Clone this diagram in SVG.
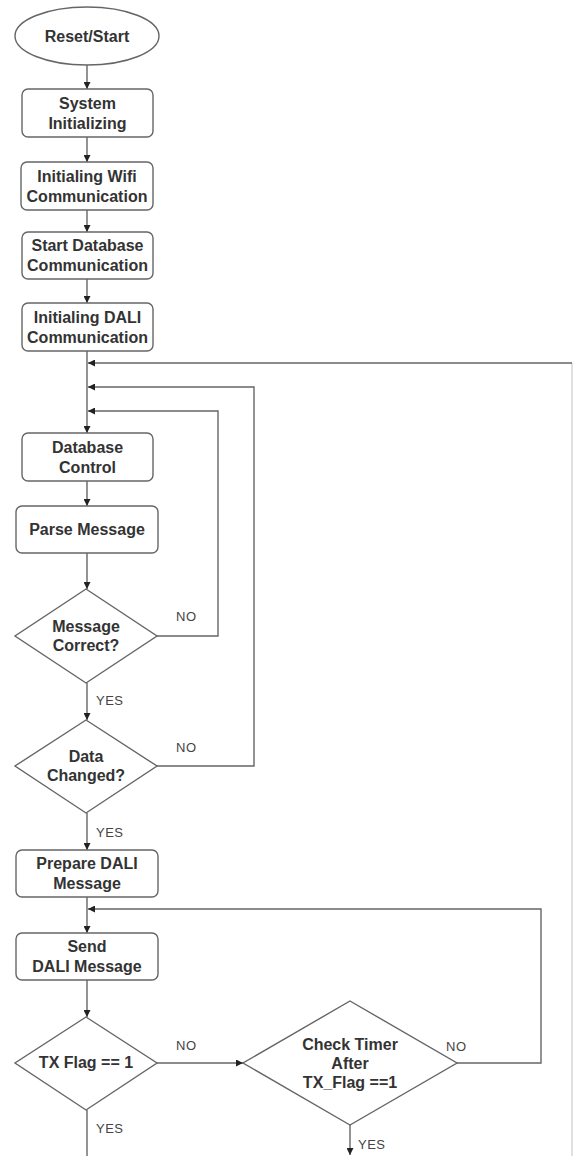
<svg xmlns="http://www.w3.org/2000/svg" width="574" height="1156" viewBox="0 0 574 1156">
<style>
.shape{fill:#fff;stroke:#666;stroke-width:1.4}
.t{font-family:"Liberation Sans",Arial,sans-serif;font-size:16px;font-weight:bold;fill:#333;text-anchor:middle}
.lbl{font-family:"Liberation Sans",Arial,sans-serif;font-size:13px;fill:#444;letter-spacing:0.5px}
.c{fill:none;stroke:#666;stroke-width:1.4}
.faint{fill:none;stroke:#ccc;stroke-width:1.2}
</style>
<defs>
<marker id="ah" viewBox="0 0 10 10" refX="10" refY="5" markerWidth="7" markerHeight="7" orient="auto" markerUnits="userSpaceOnUse">
<path d="M0,0 L10,5 L0,10 z" fill="#222"/>
</marker>
</defs>
<rect width="574" height="1156" fill="#fff"/>
<g id="connectors">
<line class="c" x1="87" y1="65" x2="87" y2="89" marker-end="url(#ah)"/>
<line class="c" x1="87" y1="137" x2="87" y2="162" marker-end="url(#ah)"/>
<line class="c" x1="87" y1="210" x2="87" y2="232" marker-end="url(#ah)"/>
<line class="c" x1="87" y1="279" x2="87" y2="303" marker-end="url(#ah)"/>
<line class="c" x1="87" y1="351" x2="87" y2="433" marker-end="url(#ah)"/>
<line class="faint" x1="572" y1="1156" x2="572" y2="363"/>
<polyline class="c" points="572,363 88,363" marker-end="url(#ah)"/>
<polyline class="c" points="157,766 254,766 254,387 88,387" marker-end="url(#ah)"/>
<polyline class="c" points="157,636 218,636 218,411 88,411" marker-end="url(#ah)"/>
<line class="c" x1="87" y1="481" x2="87" y2="506" marker-end="url(#ah)"/>
<line class="c" x1="87" y1="553" x2="87" y2="589" marker-end="url(#ah)"/>
<line class="c" x1="87" y1="683" x2="87" y2="720" marker-end="url(#ah)"/>
<line class="c" x1="87" y1="813" x2="87" y2="850" marker-end="url(#ah)"/>
<line class="c" x1="87" y1="897" x2="87" y2="933" marker-end="url(#ah)"/>
<polyline class="c" points="457,1063 541,1063 541,909 88,909" marker-end="url(#ah)"/>
<line class="c" x1="87" y1="980" x2="87" y2="1017" marker-end="url(#ah)"/>
<line class="c" x1="157" y1="1063" x2="243" y2="1063" marker-end="url(#ah)"/>
<line class="c" x1="87" y1="1110" x2="87" y2="1156"/>
<line class="c" x1="350" y1="1125" x2="350" y2="1155" marker-end="url(#ah)"/>
<text class="lbl" x="176" y="621">NO</text>
<text class="lbl" x="96" y="705">YES</text>
<text class="lbl" x="176" y="752">NO</text>
<text class="lbl" x="96" y="837">YES</text>
<text class="lbl" x="176" y="1050">NO</text>
<text class="lbl" x="96" y="1133">YES</text>
<text class="lbl" x="446" y="1051">NO</text>
<text class="lbl" x="358" y="1149">YES</text>
</g>
<g id="reset-start">
<ellipse class="shape" cx="87" cy="36" rx="72" ry="29"/>
<text class="t" x="87" y="42">Reset/Start</text>
</g>
<g id="system-init">
<rect class="shape" x="22" y="89" width="131" height="48" rx="6"/>
<text class="t" x="87.5" y="109">System</text>
<text class="t" x="87.5" y="129">Initializing</text>
</g>
<g id="wifi-init">
<rect class="shape" x="21" y="162" width="132" height="48" rx="6"/>
<text class="t" x="87" y="182">Initialing Wifi</text>
<text class="t" x="87" y="202">Communication</text>
</g>
<g id="db-comm">
<rect class="shape" x="22" y="232" width="131" height="47" rx="6"/>
<text class="t" x="87.5" y="251">Start Database</text>
<text class="t" x="87.5" y="271">Communication</text>
</g>
<g id="dali-init">
<rect class="shape" x="22" y="303" width="131" height="48" rx="6"/>
<text class="t" x="87.5" y="323">Initialing DALI</text>
<text class="t" x="87.5" y="343">Communication</text>
</g>
<g id="db-control">
<rect class="shape" x="22" y="433" width="131" height="48" rx="6"/>
<text class="t" x="87.5" y="453">Database</text>
<text class="t" x="87.5" y="473">Control</text>
</g>
<g id="parse-message">
<rect class="shape" x="16" y="506" width="142" height="47" rx="6"/>
<text class="t" x="87" y="535">Parse Message</text>
</g>
<g id="message-correct">
<polygon class="shape" points="86,589 157,636 86,683 15,636"/>
<text class="t" x="86" y="632">Message</text>
<text class="t" x="86" y="651">Correct?</text>
</g>
<g id="data-changed">
<polygon class="shape" points="86,720 157,766 86,813 15,766"/>
<text class="t" x="86" y="762">Data</text>
<text class="t" x="86" y="781">Changed?</text>
</g>
<g id="prepare-dali">
<rect class="shape" x="16" y="850" width="142" height="47" rx="6"/>
<text class="t" x="87" y="869">Prepare DALI</text>
<text class="t" x="87" y="889">Message</text>
</g>
<g id="send-dali">
<rect class="shape" x="16" y="933" width="142" height="47" rx="6"/>
<text class="t" x="87" y="952">Send</text>
<text class="t" x="87" y="972">DALI Message</text>
</g>
<g id="tx-flag">
<polygon class="shape" points="86,1017 157,1063 86,1110 15,1063"/>
<text class="t" x="86" y="1068">TX Flag == 1</text>
</g>
<g id="check-timer">
<polygon class="shape" points="350,1001 457,1063 350,1125 243,1063"/>
<text class="t" x="350" y="1050">Check Timer</text>
<text class="t" x="350" y="1069">After</text>
<text class="t" x="350" y="1088">TX_Flag ==1</text>
</g>
</svg>
